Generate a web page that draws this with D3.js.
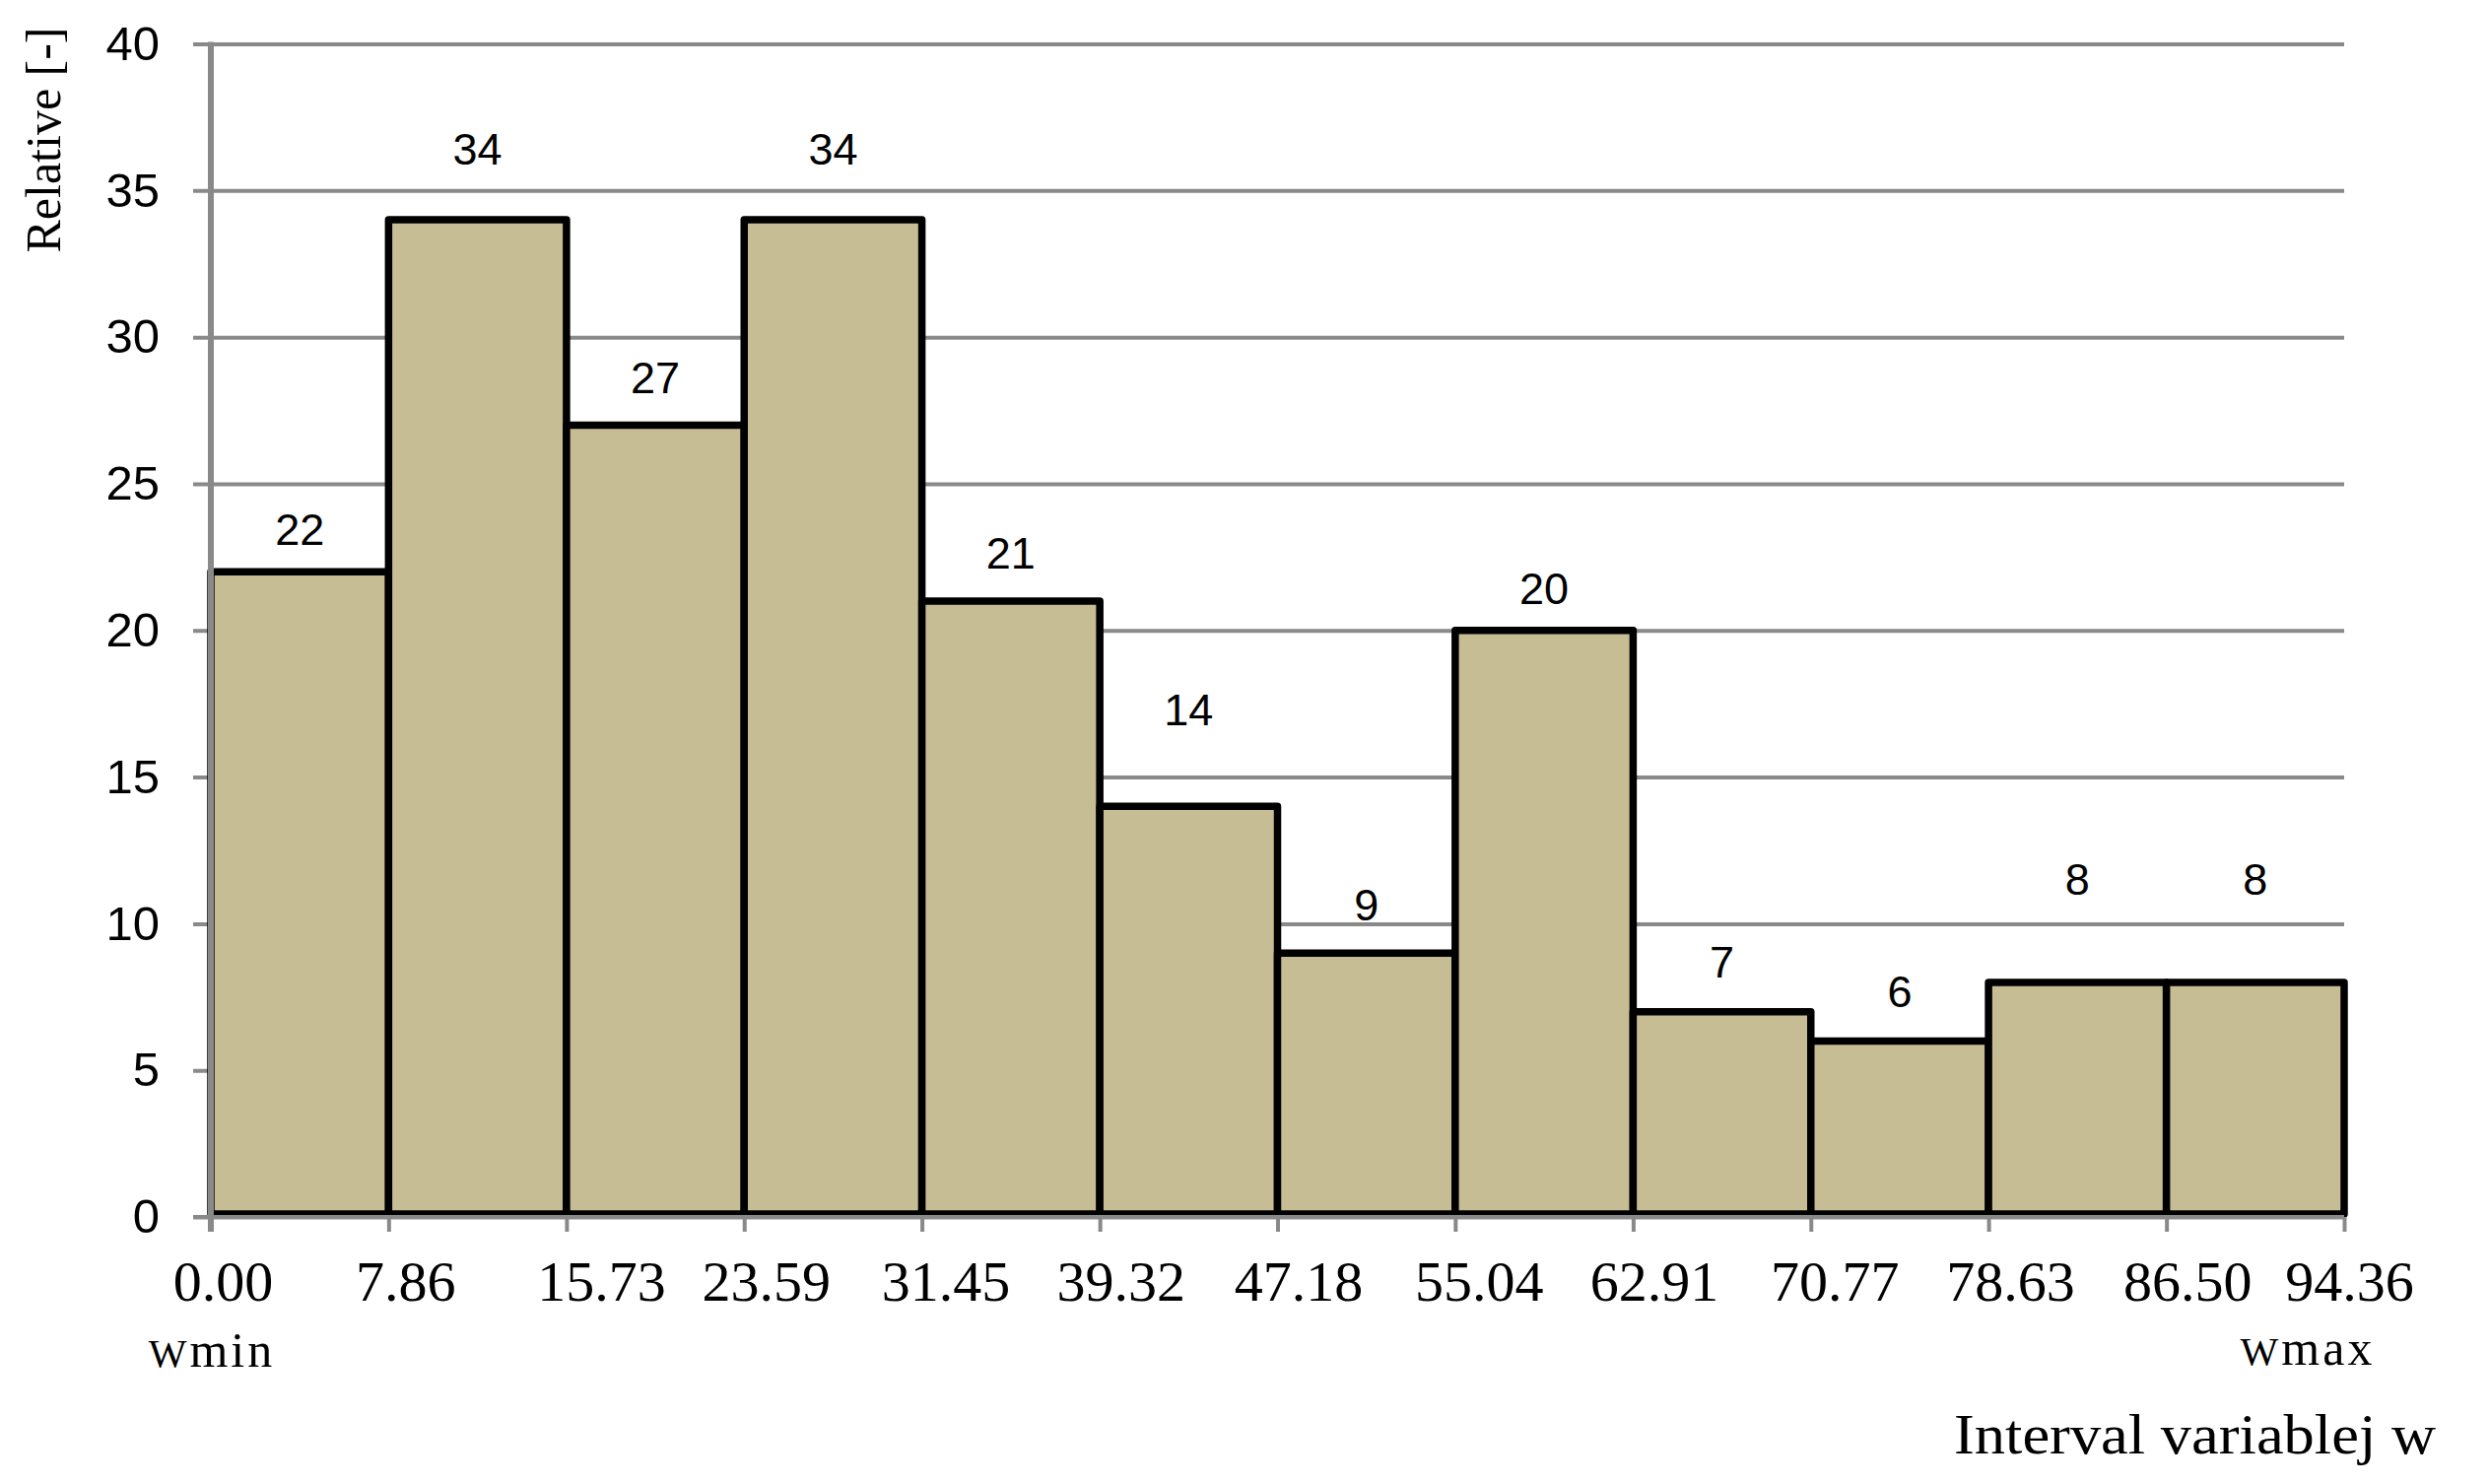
<!DOCTYPE html>
<html>
<head>
<meta charset="utf-8">
<script src="https://cdn.jsdelivr.net/npm/d3@7"></script>
<style>
  body { margin: 0; background: #fff; }
</style>
</head>
<body>
<div id="chart"></div>
<script>
// bin edges of the histogram (also the x tick labels)
var binEdges = [0.00, 7.86, 15.73, 23.59, 31.45, 39.32, 47.18, 55.04, 62.91, 70.77, 78.63, 86.50, 94.36]
var counts = [22, 34, 27, 34, 21, 14, 9, 20, 7, 6, 8, 8]
// height (in y units) where each count label sits
var labelAt = [22.9, 35.9, 28.1, 35.9, 22.1, 16.75, 10.1, 20.9, 8.15, 7.15, 11, 11]
var yTicks = [0, 5, 10, 15, 20, 25, 30, 35, 40]
// small horizontal shifts of the x tick labels in the original
var tickNudge = [12, 17, 35, 22, 24, 21, 21, 24, 21, 24, 22, 21, 5]

var W = 2526, H = 1506
var plotLeft = 214, plotRight = 2379, plotTop = 44.5, plotBottom = 1235
var gridColor = "#898989", barColor = "#C6BD95"

var svg = d3.select("#chart").append("svg")
    .attr("width", W).attr("height", H)

svg.append("rect").attr("width", W).attr("height", H).style("fill", "#fff")

var x = d3.scaleLinear().domain([0, 94.36]).range([plotLeft, plotRight])
var y = d3.scaleLinear().domain([0, 40]).range([plotBottom, plotTop])

// y axis + gridlines
var yAxis = svg.append("g")
    .attr("transform", "translate(196,0)")
    .call(d3.axisLeft(y).tickValues(yTicks).tickSize(-(plotRight - 196)).tickPadding(34))
yAxis.select(".domain").remove()
yAxis.selectAll("line").style("stroke", gridColor).style("stroke-width", 4)
yAxis.selectAll("text")
    .style("font-family", "'Liberation Sans', Arial, sans-serif")
    .style("font-size", "49px").style("fill", "#000")

// bars
svg.append("g").selectAll("rect")
    .data(counts)
    .join("rect")
    .attr("x", function(d, i){ return x(binEdges[i]) })
    .attr("width", function(d, i){ return x(binEdges[i+1]) - x(binEdges[i]) })
    .attr("y", function(d){ return y(d) })
    .attr("height", function(d){ return y(0) - 3 - y(d) })
    .style("fill", barColor)
    .style("stroke", "#000").style("stroke-width", 7.5)
    .style("stroke-linejoin", "round")

// count labels
svg.append("g").selectAll("text")
    .data(counts)
    .join("text")
    .attr("x", function(d, i){ return (x(binEdges[i]) + x(binEdges[i+1])) / 2 })
    .attr("y", function(d, i){ return y(labelAt[i]) })
    .attr("text-anchor", "middle")
    .style("font-family", "'Liberation Sans', Arial, sans-serif")
    .style("font-size", "45px")
    .text(function(d){ return d })

// x axis
var xAxis = svg.append("g")
    .attr("transform", "translate(0," + plotBottom + ")")
    .call(d3.axisBottom(x).tickValues(binEdges).tickSize(15).tickFormat(d3.format(".2f")))
xAxis.select(".domain").remove()
xAxis.selectAll("line").style("stroke", gridColor).style("stroke-width", 4)
xAxis.selectAll("text")
    .attr("y", 85).attr("dy", 0)
    .attr("x", function(d, i){ return tickNudge[i] })
    .style("font-family", "'Liberation Serif', 'Times New Roman', serif")
    .style("font-size", "58px").style("fill", "#000")

// axis lines drawn over the bar edges
svg.append("line")
    .attr("x1", 196).attr("x2", plotRight).attr("y1", plotBottom).attr("y2", plotBottom)
    .style("stroke", gridColor).style("stroke-width", 4)
svg.append("line")
    .attr("x1", plotLeft).attr("x2", plotLeft).attr("y1", plotTop - 2).attr("y2", plotBottom + 15)
    .style("stroke", gridColor).style("stroke-width", 6)

// titles
var serif = "'Liberation Serif', 'Times New Roman', serif"
svg.append("text")
    .attr("transform", "translate(61,142) rotate(-90)")
    .attr("text-anchor", "middle")
    .style("font-family", serif).style("font-size", "50px")
    .text("Relative [-]")

svg.append("text")
    .attr("x", 1983).attr("y", 1475)
    .attr("textLength", 489).attr("lengthAdjust", "spacingAndGlyphs")
    .style("font-family", serif).style("font-size", "57px")
    .text("Interval variablej w")

var wmin = svg.append("text")
    .attr("x", 215).attr("y", 1387).attr("text-anchor", "middle")
    .style("font-family", serif).style("letter-spacing", "3px")
wmin.append("tspan").style("font-size", "41px").text("W")
wmin.append("tspan").style("font-size", "50px").text("min")

var wmax = svg.append("text")
    .attr("x", 2342).attr("y", 1385).attr("text-anchor", "middle")
    .style("font-family", serif).style("letter-spacing", "3px")
wmax.append("tspan").style("font-size", "41px").text("W")
wmax.append("tspan").style("font-size", "50px").text("max")
</script>
</body>
</html>
